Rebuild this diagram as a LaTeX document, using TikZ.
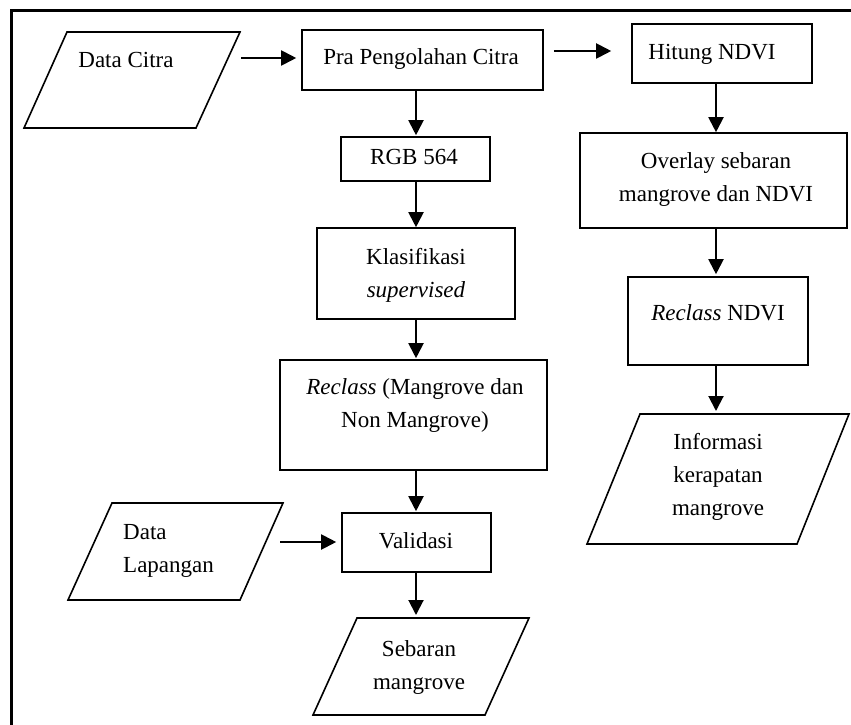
\documentclass[tikz,border=0pt]{standalone}
\usepackage{fontspec}
\setmainfont{Liberation Serif}
\usetikzlibrary{arrows.meta,calc}
\begin{document}
\begin{tikzpicture}[x=1pt,y=-1pt,
  box/.style={draw, line width=1.6pt, inner sep=0pt},
  para/.style={draw, line width=1.6pt, line join=miter},
  txt/.style={font=\fontsize{23}{33}\selectfont, inner sep=0pt, align=center},
  arr/.style={line width=2pt, -{Triangle[length=15pt,width=15pt]}},
  frame/.style={line width=3.6pt, line join=miter}]
\useasboundingbox (0,0) rectangle (851,725);
% frame (left and top edges)
\draw[frame] (11.3,730) -- (11.3,10.5) -- (856,10.5);

% guide coordinates for the two arrow columns
\coordinate (lx) at (416,0);
\coordinate (rx) at (716,0);

% boxes
\node[box, minimum width=241pt, minimum height=60pt] (pra) at (422.5,60) {};
\node[box, minimum width=149pt, minimum height=44pt] (rgb) at (415.5,159) {};
\node[box, minimum width=198pt, minimum height=91pt] (klas) at (416,273.5) {};
\node[box, minimum width=267pt, minimum height=110pt] (recl) at (413.5,415) {};
\node[box, minimum width=149pt, minimum height=59pt] (val) at (416.5,542.5) {};
\node[box, minimum width=180pt, minimum height=59pt] (hit) at (722,53.5) {};
\node[box, minimum width=267pt, minimum height=95pt] (ovl) at (713.5,180.5) {};
\node[box, minimum width=180pt, minimum height=88pt] (rnd) at (718,321) {};

% parallelograms (input / output)
\draw[para] (67,32) -- (240,32) -- (196,128) -- (24,128) -- cycle;
\draw[para] (112,503) -- (283,503) -- (240,600) -- (68,600) -- cycle;
\draw[para] (640,414) -- (849,414) -- (797,544) -- (587,544) -- cycle;
\draw[para] (357,618) -- (529,618) -- (485,715) -- (313,715) -- cycle;
\coordinate (dcout) at (241,58);
\coordinate (dlout) at (280,542);
\coordinate (inftop) at (718,414);
\coordinate (sebtop) at (420,618);

% texts
\node[txt] (tdc) at (126,61) {\strut Data Citra};
\node[txt] (tpra) at (421,58) {\strut Pra Pengolahan Citra};
\node[txt] (thit) at (712,53) {\strut Hitung NDVI};
\node[txt] (trgb) at (414,158) {\strut RGB 564};
\node[txt] (tovl) at (716,178) {\strut Overlay sebaran\\\strut mangrove dan NDVI};
\node[txt] (tklas) at (416,274.5) {\strut Klasifikasi\\\strut\textit{supervised}};
\node[txt] (trecl) at (415,404) {\strut\textit{Reclass} (Mangrove dan\\\strut Non Mangrove)};
\node[txt] (tval) at (416,542) {\strut Validasi};
\node[txt] (trnd) at (718,314) {\strut\textit{Reclass} NDVI};
\node[txt] (tinf) at (718,476) {\strut Informasi\\\strut kerapatan\\\strut mangrove};
\node[txt, align=left, anchor=west] (tdl) at (123,549.5) {\strut Data\\\strut Lapangan};
\node[txt] (tseb) at (419,666) {\strut Sebaran\\\strut mangrove};

% connectors
\draw[arr, shorten >=5pt] (dcout) -- (dcout -| pra.west);
\draw[arr] ([shift={(10,-9)}]pra.east) -- ([shift={(-20,-2.5)}]hit.west);
\draw[arr] (hit.south -| rx) -- (ovl.north -| rx);
\draw[arr, shorten >=2pt] (ovl.south -| rx) -- (rnd.north -| rx);
\draw[arr, shorten >=3pt] (rnd.south -| rx) -- (inftop -| rx);
\draw[arr, shorten >=1pt] (pra.south -| lx) -- (rgb.north -| lx);
\draw[arr] (rgb.south -| lx) -- (klas.north -| lx);
\draw[arr, shorten >=1pt] (klas.south -| lx) -- (recl.north -| lx);
\draw[arr, shorten >=1pt] (recl.south -| lx) -- (val.north -| lx);
\draw[arr, shorten >=5pt] (dlout) -- (dlout -| val.west);
\draw[arr, shorten >=3pt] (val.south -| lx) -- (sebtop -| lx);
\end{tikzpicture}
\end{document}
